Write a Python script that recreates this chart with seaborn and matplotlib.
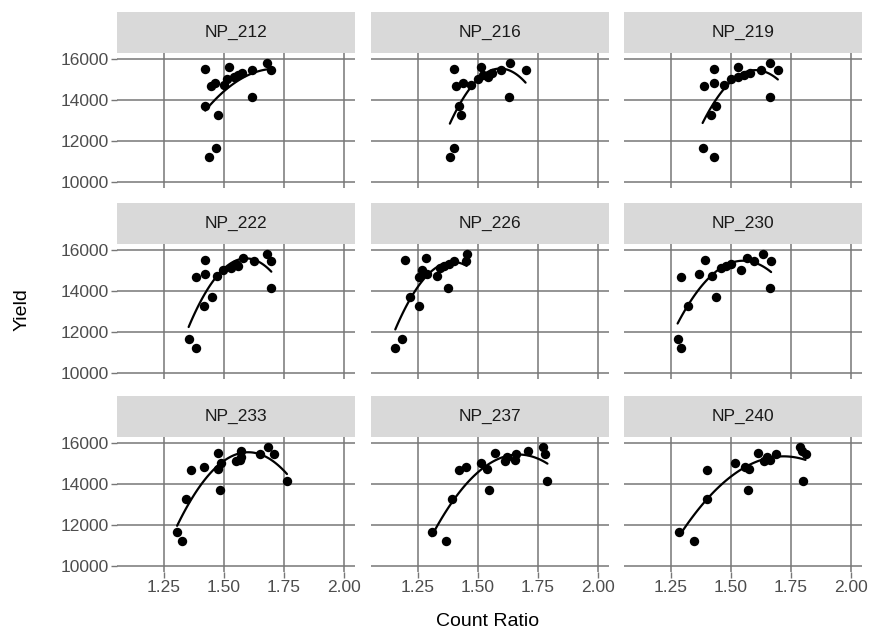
import numpy as np
import pandas as pd
import seaborn as sns
import matplotlib.pyplot as plt
from matplotlib.patches import Rectangle

# Yield per plot (same plots measured under each NP sampling date)
yield_vals = [11200, 11650, 13250, 13700, 14150, 14700, 14850, 14750, 15050,
              15150, 15200, 15300, 15450, 15500, 15600, 15800, 15450]

# Count ratio for each plot, one list per NP date
np_212 = [1.436, 1.466, 1.477, 1.422, 1.618, 1.447, 1.461, 1.500, 1.512,
          1.540, 1.560, 1.574, 1.618, 1.422, 1.521, 1.678, 1.695]
np_216 = [1.383, 1.401, 1.429, 1.422, 1.628, 1.408, 1.439, 1.470, 1.499,
          1.541, 1.520, 1.560, 1.597, 1.401, 1.513, 1.635, 1.698]
np_219 = [1.430, 1.382, 1.417, 1.438, 1.664, 1.389, 1.430, 1.470, 1.500,
          1.530, 1.555, 1.580, 1.625, 1.430, 1.528, 1.664, 1.695]
np_222 = [1.385, 1.353, 1.415, 1.452, 1.697, 1.384, 1.422, 1.470, 1.498,
          1.530, 1.560, 1.550, 1.626, 1.422, 1.580, 1.677, 1.697]
np_226 = [1.156, 1.184, 1.254, 1.219, 1.377, 1.254, 1.290, 1.331, 1.268,
          1.340, 1.360, 1.380, 1.400, 1.195, 1.285, 1.453, 1.450]
np_230 = [1.294, 1.278, 1.322, 1.438, 1.664, 1.294, 1.368, 1.420, 1.542,
          1.458, 1.480, 1.500, 1.597, 1.392, 1.567, 1.632, 1.667]
np_233 = [1.326, 1.305, 1.342, 1.484, 1.762, 1.364, 1.418, 1.477, 1.486,
          1.550, 1.565, 1.570, 1.650, 1.474, 1.570, 1.684, 1.707]
np_237 = [1.369, 1.307, 1.394, 1.544, 1.789, 1.419, 1.450, 1.536, 1.513,
          1.611, 1.653, 1.620, 1.660, 1.572, 1.709, 1.770, 1.779]
np_240 = [1.347, 1.285, 1.399, 1.570, 1.799, 1.399, 1.560, 1.576, 1.517,
          1.639, 1.664, 1.650, 1.688, 1.611, 1.795, 1.789, 1.810]

panel_names = ["NP_212", "NP_216", "NP_219", "NP_222", "NP_226",
               "NP_230", "NP_233", "NP_237", "NP_240"]
panel_ratios = [np_212, np_216, np_219, np_222, np_226,
                np_230, np_233, np_237, np_240]

x_ticks = [1.25, 1.50, 1.75, 2.00]
x_tick_labels = ["1.25", "1.50", "1.75", "2.00"]
y_ticks = [10000, 12000, 14000, 16000]

df = pd.concat(
    [pd.DataFrame({"NP": name, "Count Ratio": r, "Yield": yield_vals})
     for name, r in zip(panel_names, panel_ratios)],
    ignore_index=True,
)

sns.set_theme(style="white")
plt.rcParams["font.family"] = ["Liberation Sans", "DejaVu Sans"]

g = sns.lmplot(
    data=df, x="Count Ratio", y="Yield", col="NP", col_wrap=3,
    col_order=panel_names, order=2, ci=None, truncate=True,
    scatter_kws=dict(s=46, color="black", alpha=1, linewidths=0, zorder=3),
    line_kws=dict(color="black", lw=1.6, zorder=4),
    height=2, aspect=1.5, facet_kws=dict(despine=False, sharex=True, sharey=True),
)
fig = g.figure
fig.set_size_inches(8.73, 6.39)
W, H = 873, 639

g.set_titles("")
g.set_axis_labels("", "")

col_left = [117, 371, 624]
panel_w = 238
row_top = [53, 244, 437]
panel_h = 135
strip_h = 41

grid_col = "#777777"
tick_col = "#4d4d4d"

for i, ax in enumerate(g.axes.flat):
    r, c = divmod(i, 3)
    ax.set_position([col_left[c] / W, 1 - (row_top[r] + panel_h) / H,
                     panel_w / W, panel_h / H])
    ax.set_xlim(1.055, 2.045)
    ax.set_ylim(9700, 16300)
    ax.set_xticks(x_ticks)
    ax.set_yticks(y_ticks)
    ax.set_facecolor("white")
    for sp in ax.spines.values():
        sp.set_visible(False)
    ax.grid(True, color=grid_col, lw=1.1)
    ax.set_axisbelow(True)
    ax.set_xlabel("")
    ax.set_ylabel("")

    show_x = r == 2
    show_y = c == 0
    ax.tick_params(axis="x", bottom=show_x, labelbottom=show_x, length=4,
                   width=1.0, color=grid_col, labelsize=12.5,
                   labelcolor=tick_col, pad=2)
    ax.tick_params(axis="y", left=show_y, labelleft=show_y, length=4,
                   width=1.0, color=grid_col, labelsize=12.5,
                   labelcolor=tick_col, pad=2)
    if show_x:
        ax.set_xticklabels(x_tick_labels)
    if show_y:
        ax.set_yticklabels([str(v) for v in y_ticks])

    # facet strip above the panel
    strip_frac = strip_h / panel_h
    ax.add_patch(Rectangle((0, 1), 1, strip_frac, transform=ax.transAxes,
                           facecolor="#d9d9d9", edgecolor="none",
                           clip_on=False, zorder=5))
    ax.text(0.5, 1 + strip_frac / 2, panel_names[i], transform=ax.transAxes,
            ha="center", va="center", fontsize=12.5, color="#1a1a1a",
            zorder=6)

fig.text(22 / W, 1 - 310 / H, "Yield", rotation=90, ha="center",
         va="center", fontsize=14, color="black")
fig.text(488 / W, 1 - 621 / H, "Count Ratio", ha="center", va="center",
         fontsize=14, color="black")

fig.savefig("out.png", dpi=100, facecolor="white")
